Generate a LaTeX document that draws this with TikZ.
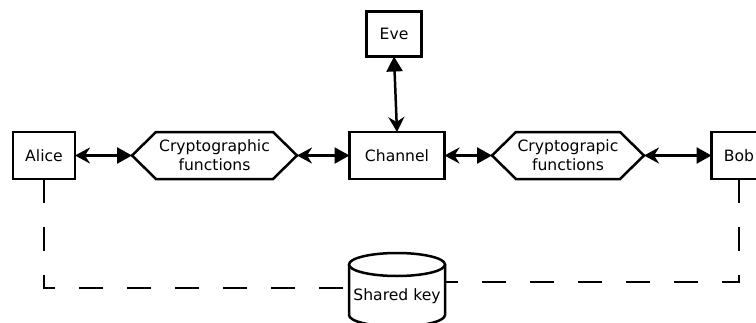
\documentclass[tikz,border=0pt]{standalone}
\usepackage{fontspec}
\setmainfont{DejaVu Sans}
\usetikzlibrary{arrows.meta}
\begin{document}
\begin{tikzpicture}[x=1pt,y=-1pt,
  line width=2.5pt,
  every node/.style={font=\fontsize{15.6}{19}\selectfont, outer sep=0pt, inner sep=0pt},
  actor/.style={draw, minimum height=47pt},
  cryptobox/.style={minimum height=47pt, align=center},
  link/.style={{Stealth[length=15pt,width=16pt,inset=5pt]}-{Triangle[length=15pt,width=16pt]}},
  keyline/.style={dash pattern=on 24pt off 24pt}]
\useasboundingbox (0,0) rectangle (756,322);

% parties and channel
\node[actor, minimum width=62pt] (alice) at (44,155.5) {Alice};
\node[actor, minimum width=95pt] (channel) at (397,155.5) {Channel};
\node[actor, minimum width=55pt, minimum height=45pt] (eve) at (394,34) {Eve};
\node[actor, minimum width=55pt] (bob) at (739,155.5) {Bob};

% hexagonal function blocks
\node[cryptobox, minimum width=165pt] (c1) at (214.5,155.5) {Cryptographic\\functions};
\node[cryptobox, minimum width=152pt] (c2) at (568,155.5) {Cryptograpic\\functions};
\foreach \c in {c1,c2}{
  \draw (\c.west) -- ([xshift=24pt]\c.north west) -- ([xshift=-24pt]\c.north east)
        -- (\c.east) -- ([xshift=-24pt]\c.south east) -- ([xshift=24pt]\c.south west) -- cycle;
}

% shared key store
\node (shared) at (397,296) {Shared key};
\draw[fill=white] (397,264.5) ellipse [x radius=48, y radius=11.5];
\draw (349,264.5) -- (349,315) arc [start angle=180, end angle=0, x radius=48, y radius=11.5] -- (445,264.5);
\coordinate (keyW) at (349,288);
\coordinate (keyE) at (445,282);

% connections
\draw[link] (alice.east) -- (c1.west);
\draw[link] (c1.east) -- (channel.west);
\draw[link] (channel.east) -- (c2.west);
\draw[link] (c2.east) -- (bob.west);
\draw[link] (channel.north) -- (eve.south);

\draw[keyline] (alice.south) |- (keyW);
\draw[keyline] (bob.south) |- (keyE);
\end{tikzpicture}
\end{document}
